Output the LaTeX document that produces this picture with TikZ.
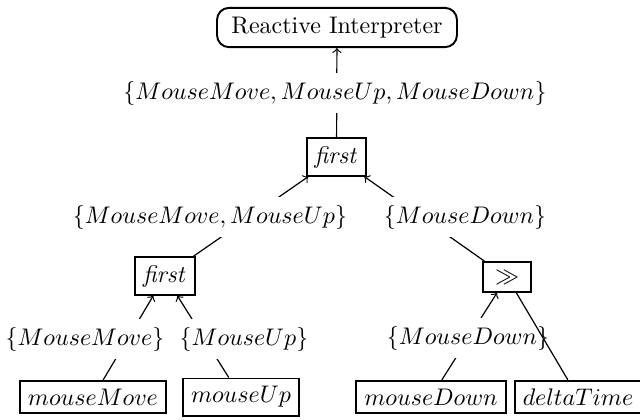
\documentclass[tikz,border=0pt]{standalone}
\begin{document}
\begin{tikzpicture}[x=0.4167pt,y=-0.4167pt,
  box/.style={draw,line width=0.8pt,inner sep=3.33pt},
  lab/.style={fill=white,inner sep=3.33pt},
  conn/.style={line width=0.5pt},
  >=to]
\useasboundingbox (0,0) rectangle (640,419);
% boxes
\node[box,rounded corners=5pt,inner xsep=6pt,inner ysep=3.8pt] (R) at (337,27.5) {Reactive Interpreter};
\node[box] (ft) at (336.5,157) {$\mathit{first}$};
\node[box] (fl) at (165,276) {$\mathit{first}$};
\node[box,inner xsep=5pt] (gg) at (507,277) {$\gg$};
\node[box] (mm) at (93,397) {$mouseMove$};
\node[box] (mu) at (241,397) {$mouseUp$};
\node[box] (md) at (431,397) {$mouseDown$};
\node[box] (dt) at (578,397) {$deltaTime$};
% connectors
\draw[conn,->] (ft) -- (R);
\draw[conn,->] (fl) -- (ft);
\draw[conn,->] (gg) -- (ft);
\draw[conn,->] (mm) -- (fl);
\draw[conn,->] (mu) -- (fl);
\draw[conn,->] (md) -- (gg);
% labels
\node[lab] (l0) at (335,93) {$\{MouseMove, MouseUp, MouseDown\}$};
\node[lab] (l1) at (210,217) {$\{MouseMove, MouseUp\}$};
\node[lab] (l2) at (465,217) {$\{MouseDown\}$};
\node[lab] (l3) at (85,339) {$\{MouseMove\}$};
\node[lab] (l4) at (244,339) {$\{MouseUp\}$};
\node[lab] (l5) at (468,338) {$\{MouseDown\}$};
% unlabelled connector drawn over the label
\draw[conn] (dt) -- (gg);
\end{tikzpicture}
\end{document}
